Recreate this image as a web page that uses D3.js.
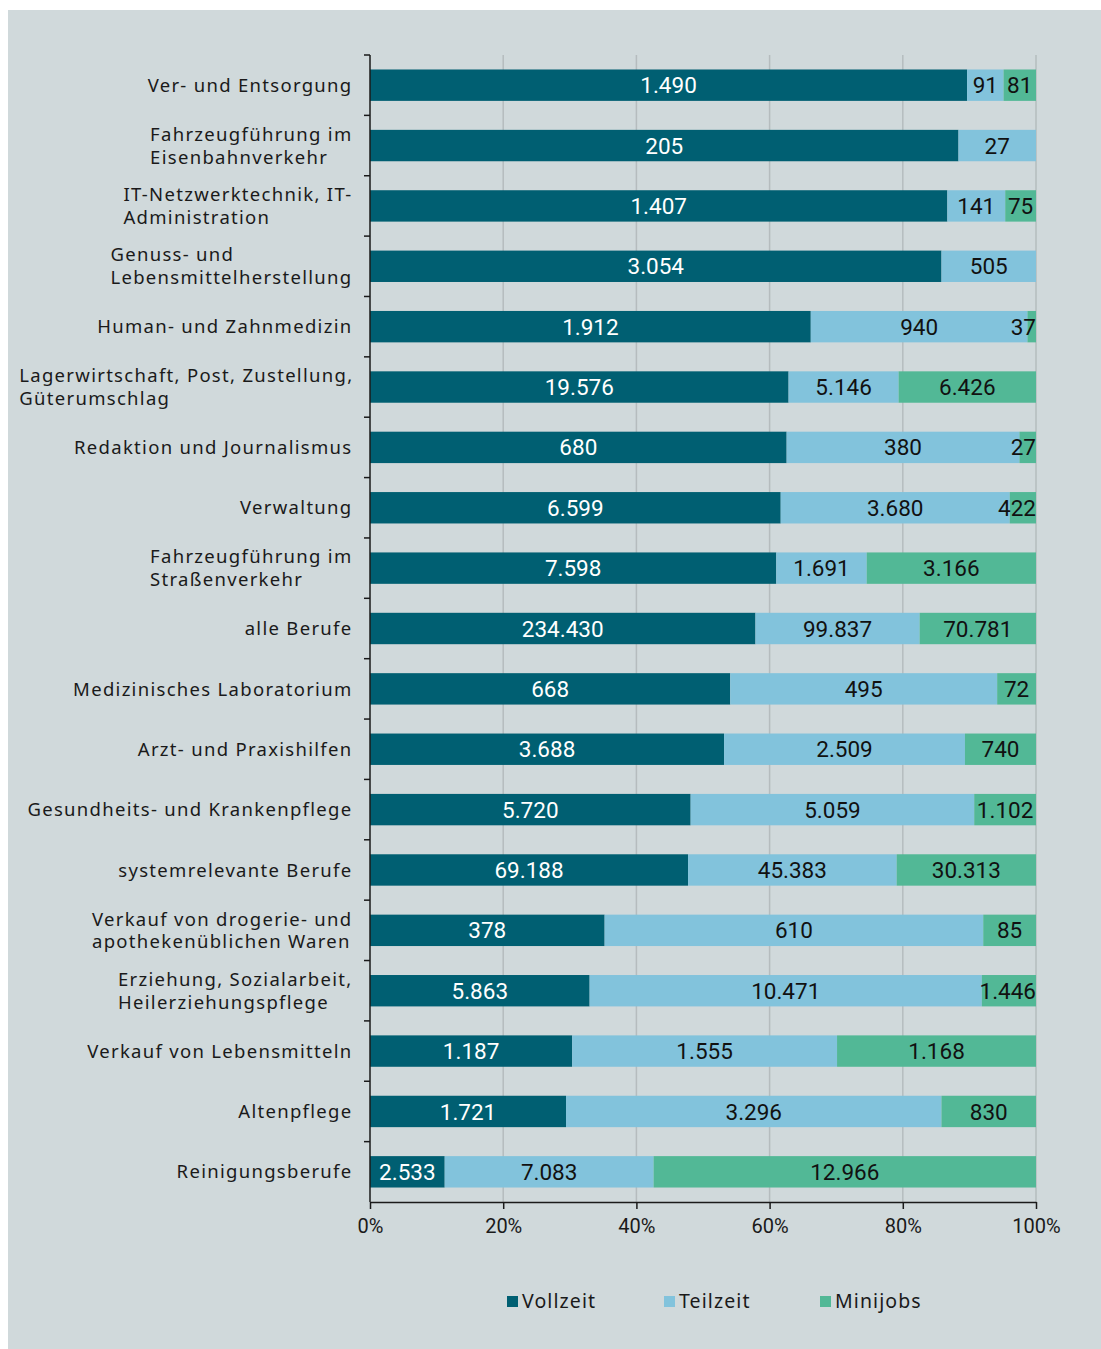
<!DOCTYPE html>
<html lang="de">
<head>
<meta charset="UTF-8">
<title>stacked-bar-svg</title>
<script src="https://cdn.jsdelivr.net/npm/d3@7"></script>
<style>
    body { margin: 0; background: #ffffff; }
    svg { display: block; }
    .cat { font-family: "Noto Sans", sans-serif; font-size: 18.5px; fill: #1a1a1a; letter-spacing: 1.3px; }
    .val { font-family: Roboto, sans-serif; font-size: 22.5px; }
    .tick text { font-family: Roboto, sans-serif; font-size: 20px; fill: #1a1a1a; }
    .legend text { font-family: "Noto Sans", sans-serif; font-size: 19.5px; fill: #1a1a1a; letter-spacing: 1.1px; }
</style>
</head>
<body>
<svg id="chart"></svg>
<script>
    // Kategorien (Zeilenumbruch mit |)
    var categories = [
        "Ver- und Entsorgung",
        "Fahrzeugführung im|Eisenbahnverkehr",
        "IT-Netzwerktechnik, IT-|Administration",
        "Genuss- und|Lebensmittelherstellung",
        "Human- und Zahnmedizin",
        "Lagerwirtschaft, Post, Zustellung,|Güterumschlag",
        "Redaktion und Journalismus",
        "Verwaltung",
        "Fahrzeugführung im|Straßenverkehr",
        "alle Berufe",
        "Medizinisches Laboratorium",
        "Arzt- und Praxishilfen",
        "Gesundheits- und Krankenpflege",
        "systemrelevante Berufe",
        "Verkauf von drogerie- und|apothekenüblichen Waren",
        "Erziehung, Sozialarbeit,|Heilerziehungspflege",
        "Verkauf von Lebensmitteln",
        "Altenpflege",
        "Reinigungsberufe"
    ];
    var vollzeit = [1490, 205, 1407, 3054, 1912, 19576, 680, 6599, 7598, 234430, 668, 3688, 5720, 69188, 378, 5863, 1187, 1721, 2533];
    var teilzeit = [91, 27, 141, 505, 940, 5146, 380, 3680, 1691, 99837, 495, 2509, 5059, 45383, 610, 10471, 1555, 3296, 7083];
    var minijobs = [81, 0, 75, 0, 37, 6426, 27, 422, 3166, 70781, 72, 740, 1102, 30313, 85, 1446, 1168, 830, 12966];
    var seriesNames = ["Vollzeit", "Teilzeit", "Minijobs"];
    var tickValues = [0, 0.2, 0.4, 0.6, 0.8, 1];

    var colors = { "Vollzeit": "#005f72", "Teilzeit": "#82c3dc", "Minijobs": "#52b896" };
    var textColors = { "Vollzeit": "#ffffff", "Teilzeit": "#111111", "Minijobs": "#111111" };

    var width = 1101, height = 1349;
    var margins = { top: 55, right: 65, bottom: 147, left: 370 };
    var innerW = width - margins.left - margins.right;
    var innerH = height - margins.top - margins.bottom;

    var data = categories.map(function (c, i) {
        return { name: c, Vollzeit: vollzeit[i], Teilzeit: teilzeit[i], Minijobs: minijobs[i] };
    });

    var stack = d3.stack().keys(seriesNames).offset(d3.stackOffsetExpand);
    var layers = stack(data);

    var x = d3.scaleLinear().domain([0, 1]).range([0, innerW]);
    var y = d3.scaleBand().domain(categories).range([0, innerH]).paddingInner(0.48).paddingOuter(0.24);
    var yOuter = d3.scaleBand().domain(categories).range([0, innerH]);

    var svg = d3.select("#chart").attr("width", width).attr("height", height);

    // Hintergrund
    svg.append("rect").attr("x", 8).attr("y", 10).attr("width", width - 8).attr("height", height - 10).attr("fill", "#d0d9db");

    var g = svg.append("g").attr("transform", "translate(" + margins.left + "," + margins.top + ")");

    // Gitterlinien
    g.selectAll(".grid").data(tickValues.slice(1)).enter().append("line")
        .attr("x1", function (d) { return x(d); }).attr("x2", function (d) { return x(d); })
        .attr("y1", 0).attr("y2", innerH)
        .attr("stroke", "#b5bcbe").attr("stroke-width", 1.5);

    // Balken
    var layer = g.selectAll(".layer").data(layers).enter().append("g").attr("fill", function (d) { return colors[d.key]; });
    layer.selectAll("rect").data(function (d) { return d; }).enter().append("rect")
        .attr("x", function (d) { return x(d[0]); })
        .attr("width", function (d) { return x(d[1]) - x(d[0]); })
        .attr("y", function (d) { return y(d.data.name); })
        .attr("height", y.bandwidth());

    // Werte (am rechten Rand nicht ueberstehen lassen)
    var fmt = d3.formatLocale({ decimal: ",", thousands: ".", grouping: [3], currency: ["", "€"] }).format(",");
    layers.forEach(function (l) {
        g.selectAll(".v-" + l.key).data(l.filter(function (d) { return d.data[l.key] > 0; })).enter().append("text")
            .attr("class", "val")
            .attr("x", function (d) { return (x(d[0]) + x(d[1])) / 2; })
            .attr("y", function (d) { return y(d.data.name) + y.bandwidth() / 2; })
            .attr("dy", "0.36em")
            .attr("text-anchor", "middle")
            .attr("fill", textColors[l.key])
            .text(function (d) { return fmt(d.data[l.key]); })
            .each(function () {
                var t = d3.select(this);
                var w = this.getComputedTextLength();
                var cx = +t.attr("x");
                if (cx + w / 2 > innerW) t.attr("x", innerW - w / 2);
            });
    });

    // Y-Achse
    var yAxisG = g.append("g");
    yAxisG.append("line").attr("x1", 0).attr("x2", 0).attr("y1", 0).attr("y2", innerH).attr("stroke", "#1a1a1a").attr("stroke-width", 1.5);
    yAxisG.selectAll(".yt").data(categories).enter().append("line")
        .attr("x1", -6).attr("x2", 0)
        .attr("y1", function (d) { return yOuter(d); }).attr("y2", function (d) { return yOuter(d); })
        .attr("stroke", "#1a1a1a").attr("stroke-width", 1.5);

    // Kategorienbeschriftung: Block rechtsbündig, Zeilen linksbündig
    var labelRight = -17.5;
    g.selectAll(".cat").data(categories).enter().append("text")
        .attr("class", "cat")
        .attr("y", function (d) { return yOuter(d) + yOuter.bandwidth() / 2; })
        .each(function (d) {
            var lines = d.split("|");
            var t = d3.select(this);
            var spans = lines.map(function (ln, i) {
                return t.append("tspan")
                    .attr("dy", i === 0 ? (0.36 - (lines.length - 1) * 0.62) + "em" : "1.24em")
                    .text(ln);
            });
            var maxW = d3.max(spans, function (s) { return s.node().getComputedTextLength(); });
            spans.forEach(function (s) { s.attr("x", labelRight - maxW); });
        });

    // X-Achse
    var xAxis = d3.axisBottom(x).tickValues(tickValues).tickFormat(d3.format(".0%")).tickSize(7).tickSizeOuter(0);
    var xg = g.append("g").attr("transform", "translate(0," + innerH + ")").call(xAxis);
    xg.select(".domain").attr("stroke", "#1a1a1a").attr("stroke-width", 1.5);
    xg.selectAll(".tick line").attr("stroke", "#1a1a1a").attr("stroke-width", 1.5);
    xg.selectAll(".tick text").attr("y", 24).attr("dy", "0.36em");

    // Legende
    var legendX = [507, 664, 820];
    var legend = svg.append("g").attr("class", "legend");
    seriesNames.forEach(function (s, i) {
        legend.append("rect").attr("x", legendX[i]).attr("y", 1296).attr("width", 11).attr("height", 11).attr("fill", colors[s]);
        legend.append("text").attr("x", legendX[i] + 15).attr("y", 1308).text(s);
    });
</script>
</body>
</html>
